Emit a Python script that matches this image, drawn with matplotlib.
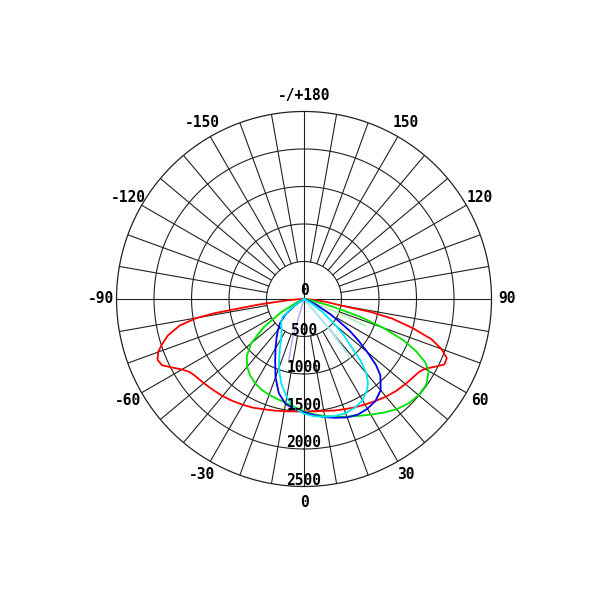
import numpy as np
import matplotlib
matplotlib.use('Agg')
import matplotlib.pyplot as plt

# Luminous intensity (cd) vs. gamma angle (deg)
red_ang = [-90, -87, -85, -83, -81, -80, -78, -75, -72, -70, -67.5, -65, -62.5, -60, -57.5, -55,
           -50, -45, -40, -35, -30, -25, -20, -15, -10, -5, 0, 5, 10, 15, 20, 25, 30, 35, 40,
           45, 50, 52.5, 55, 57.5, 60, 62.5, 65, 67.5, 70, 72.5, 75, 77.5, 79, 80, 82.5, 85, 90]
red_cd = [0, 100, 250, 600, 1200, 1450, 1690, 1880, 2000, 2070, 2115, 2090, 1980, 1880, 1810, 1780,
          1745, 1715, 1690, 1660, 1630, 1600, 1565, 1540, 1520, 1505, 1500, 1505, 1515, 1540, 1565,
          1595, 1625, 1660, 1700, 1735, 1765, 1780, 1795, 1815, 1860, 1960, 2065, 2060, 1950, 1780,
          1500, 1200, 900, 500, 300, 130, 0]

green_ang = [-90, -70, -65, -60, -55, -50, -45, -40, -35, -30, -25, -20, -15, -10, -5, 0, 5, 10,
             15, 20, 25, 30, 35, 40, 45, 50, 55, 60, 62.5, 65, 67.5, 70, 72.5, 75, 80, 85, 90]
green_cd = [0, 0, 100, 350, 650, 920, 1080, 1180, 1250, 1300, 1335, 1360, 1380, 1405, 1445, 1500,
            1545, 1585, 1625, 1670, 1720, 1780, 1850, 1920, 1970, 1995, 1990, 1920, 1820, 1650,
            1430, 1120, 780, 400, 100, 20, 0]

blue_ang = [-60, -55, -50, -45, -40, -35, -30, -25, -20, -15, -10, -5, 0, 5, 10, 15, 20, 25, 30,
            35, 40, 45, 47.5, 50, 52.5, 55, 57.5, 60, 65, 70, 75]
blue_cd = [0, 150, 320, 450, 540, 640, 760, 910, 1110, 1300, 1420, 1475, 1510, 1555, 1600, 1640,
           1680, 1700, 1690, 1660, 1590, 1440, 1300, 1100, 920, 750, 550, 400, 180, 60, 0]

cyan_ang = [-60, -55, -50, -45, -40, -35, -30, -25, -20, -15, -10, -5, 0, 5, 10, 15, 20, 25, 30,
            35, 37.5, 40, 42.5, 45, 47.5, 50, 55, 60, 65]
cyan_cd = [0, 180, 370, 430, 470, 520, 610, 770, 980, 1170, 1330, 1460, 1530, 1570, 1595, 1615,
           1620, 1600, 1560, 1470, 1400, 1290, 1120, 870, 720, 560, 300, 100, 0]

# faint partial curves near the centre
pgreen_ang = [-61, -59, -56, -53]
pgreen_cd = [0, 350, 600, 800]
pgreen2_ang = [70, 68, 66.5]
pgreen2_cd = [0, 490, 900]
lav_ang = [-17.5, -16.5, -14]
lav_cd = [0, 515, 850]
lav2_ang = [41.5, 40.3, 38.5]
lav2_cd = [0, 530, 900]
lcyan_ang = [40.5, 39.7, 38]
lcyan_cd = [0, 640, 1000]

ring_vals = [500, 1000, 1500, 2000, 2500]
ang_labels = {0: '0', 30: '30', 60: '60', 90: '90', 120: '120', 150: '150', 180: '-/+180',
              -150: '-150', -120: '-120', -90: '-90', -60: '-60', -30: '-30'}

fig = plt.figure(figsize=(6, 6), dpi=100)
ax = fig.add_axes([0.1942, 0.1892, 0.625, 0.625], projection='polar')
ax.set_theta_zero_location('S')
ax.set_theta_direction(1)
ax.set_ylim(0, 2500)
ax.grid(False)
ax.set_xticks([])
ax.set_yticks([])
ax.spines['polar'].set_linewidth(0.9)
ax.spines['polar'].set_color('#222222')

gc = '#222222'
full = np.radians(np.linspace(0, 360, 361))
for rv in ring_vals[:-1]:
    ax.plot(full, np.full_like(full, rv), color=gc, lw=0.8)
for a in range(0, 360, 10):
    t = np.radians(a)
    r0 = 0 if a % 90 == 0 else 500
    ax.plot([t, t], [r0, 2500], color=gc, lw=0.8)

fnt = dict(family='DejaVu Sans Mono', fontweight='bold', fontsize=10.5)
for a, s in ang_labels.items():
    ax.text(np.radians(a), 2710, s, ha='center', va='center', **fnt)
ax.text(np.pi, 110, '0', ha='center', va='center', **fnt)
for rv in ring_vals:
    ax.text(0, rv - 80, str(rv), ha='center', va='center', **fnt)

def draw(angs, vals, col, lw=1.3):
    ax.plot(np.radians(angs), vals, color=col, lw=lw)

draw(pgreen_ang, pgreen_cd, '#a8f0a8', 1.0)
draw(pgreen2_ang, pgreen2_cd, '#a8f0a8', 1.0)
draw(lav_ang, lav_cd, '#a8a8ff', 1.0)
draw(lav2_ang, lav2_cd, '#a8a8ff', 1.0)
draw(lcyan_ang, lcyan_cd, '#a0f0f0', 1.0)
draw(red_ang, red_cd, '#ff0000')
draw(green_ang, green_cd, '#00e400')
draw(blue_ang, blue_cd, '#0000e8')
draw(cyan_ang, cyan_cd, '#00e8f0')

fig.savefig('out.png', dpi=100)
